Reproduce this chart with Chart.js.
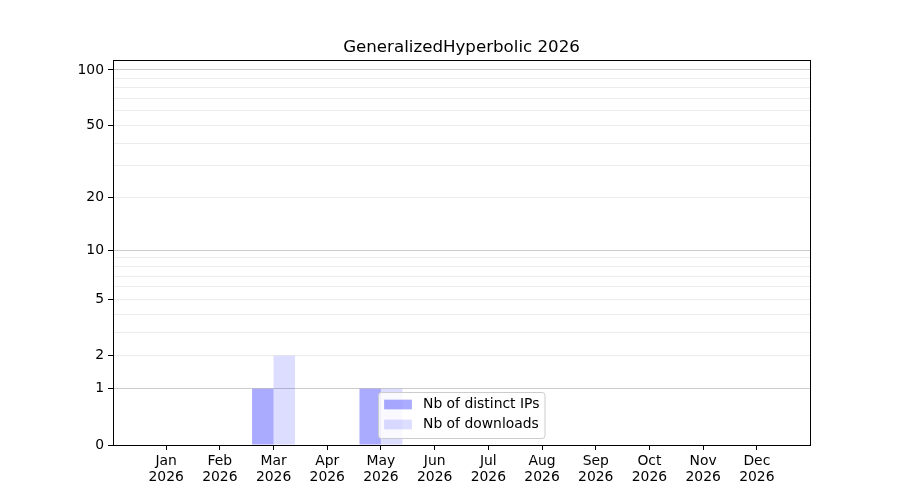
<!DOCTYPE html>
<html>
<head>
<meta charset="utf-8">
<script src="https://cdn.jsdelivr.net/npm/chart.js@4.4.1/dist/chart.umd.min.js"></script>
<style>
  body { margin: 0; background: #fff; }
  #wrap { width: 900px; height: 500px; }
</style>
</head>
<body>
<div id="wrap"><canvas id="chart" width="900" height="500"></canvas></div>
<script>
// Data
const months = ['Jan', 'Feb', 'Mar', 'Apr', 'May', 'Jun', 'Jul', 'Aug', 'Sep', 'Oct', 'Nov', 'Dec'];
const year = '2026';
const titleText = 'GeneralizedHyperbolic 2026';
const distinctIps = [0, 0, 1, 0, 1, 0, 0, 0, 0, 0, 0, 0];
const downloads = [0, 0, 2, 0, 1, 0, 0, 0, 0, 0, 0, 0];
const yTickValues = [0, 1, 2, 5, 10, 20, 50, 100];
const yMajorGrid = [1, 10, 100];
const yMinorGrid = [3, 4, 6, 7, 8, 9, 30, 40, 60, 70, 80, 90];

Chart.defaults.font.family = "'DejaVu Sans', sans-serif";
Chart.defaults.font.size = 13.9;
Chart.defaults.color = '#000';

// y scale that maps value -> log10(1 + value)
class Log1pScale extends Chart.LinearScale {
    static id = 'log1p';
    static defaults = {};
    buildTicks() {
        return yTickValues.concat(yMinorGrid).sort((a, b) => a - b).map(v => ({ value: v }));
    }
    getPixelForValue(value) {
        if (value === null || value === undefined || isNaN(value)) return NaN;
        const lo = Math.log10(1 + this.min), hi = Math.log10(1 + this.max);
        return this.getPixelForDecimal((Math.log10(1 + value) - lo) / (hi - lo));
    }
    getValueForPixel(pixel) {
        const lo = Math.log10(1 + this.min), hi = Math.log10(1 + this.max);
        return Math.pow(10, lo + this.getDecimalForPixel(pixel) * (hi - lo)) - 1;
    }
}
Chart.register(Log1pScale);

// Spines on all four sides + title centred over the axes
const frame = {
    id: 'frame',
    afterDatasetsDraw(chart) {
        const { ctx, chartArea: a } = chart;
        ctx.save();
        ctx.strokeStyle = '#000';
        ctx.lineWidth = 1;
        ctx.strokeRect(Math.round(a.left) + 0.5, Math.round(a.top) + 0.5,
            Math.round(a.right - a.left), Math.round(a.bottom - a.top));
        ctx.font = "16.67px 'DejaVu Sans', sans-serif";
        ctx.fillStyle = '#000';
        ctx.textAlign = 'center';
        ctx.textBaseline = 'alphabetic';
        ctx.fillText(titleText, (a.left + a.right) / 2, a.top - 8);
        ctx.restore();
    }
};

// matplotlib-like legend, lower center inside the axes
const boxLegend = {
    id: 'boxLegend',
    afterDraw(chart) {
        const { ctx, chartArea: a } = chart;
        const fs = 13.9;
        const sets = chart.data.datasets;
        ctx.save();
        ctx.font = fs + "px 'DejaVu Sans', sans-serif";
        let textW = 0;
        sets.forEach(d => { textW = Math.max(textW, ctx.measureText(d.label).width); });
        const pad = 5.6, handleW = 27.8, handleH = 9.7, gap = 11.1;
        const w = pad + handleW + gap + textW + pad;
        const h = 46;
        const x = Math.round((a.left + a.right) / 2 - w / 2) + 0.5;
        const y = Math.round(a.bottom - 7 - h) + 0.5;
        ctx.beginPath();
        ctx.roundRect(x, y, w, h, 3);
        ctx.fillStyle = 'rgba(255,255,255,0.8)';
        ctx.fill();
        ctx.strokeStyle = '#cccccc';
        ctx.lineWidth = 1;
        ctx.stroke();
        sets.forEach((d, i) => {
            const cy = y + 12 + i * 20;
            ctx.fillStyle = d.backgroundColor;
            ctx.fillRect(x + pad, cy - handleH / 2, handleW, handleH);
            ctx.fillStyle = '#000';
            ctx.textBaseline = 'middle';
            ctx.textAlign = 'left';
            ctx.fillText(d.label, x + pad + handleW + gap, cy);
        });
        ctx.restore();
    }
};

const ctx = document.getElementById('chart').getContext('2d');
new Chart(ctx, {
    type: 'bar',
    data: {
        datasets: [{
            label: 'Nb of distinct IPs',
            data: distinctIps.map((v, i) => ({ x: i, y: v })),
            backgroundColor: 'rgba(0, 0, 255, 0.333)',
            borderWidth: 0,
            categoryPercentage: 0.8,
            barPercentage: 1.0
        }, {
            label: 'Nb of downloads',
            data: downloads.map((v, i) => ({ x: i, y: v })),
            backgroundColor: 'rgba(0, 0, 255, 0.135)',
            borderWidth: 0,
            categoryPercentage: 0.8,
            barPercentage: 1.0
        }]
    },
    options: {
        responsive: false,
        animation: false,
        devicePixelRatio: 1,
        layout: {
            padding: { left: 0, right: 90, top: 60, bottom: 0 }
        },
        plugins: {
            legend: { display: false },
            tooltip: { enabled: false },
            title: { display: false }
        },
        scales: {
            x: {
                type: 'linear',
                min: -0.99,
                max: 11.99,
                offset: false,
                afterBuildTicks: (axis) => {
                    axis.ticks = months.map((m, i) => ({ value: i }));
                },
                afterFit: (scale) => { scale.height = 55; },
                grid: {
                    drawOnChartArea: false,
                    offset: false,
                    tickLength: 5,
                    tickColor: '#000'
                },
                border: { display: true, color: '#000', width: 1 },
                ticks: {
                    autoSkip: false,
                    maxRotation: 0,
                    padding: 3,
                    font: { size: 13.9, lineHeight: 1.15 },
                    callback: (value) => [months[value], year]
                }
            },
            y: {
                type: 'log1p',
                min: 0,
                max: 113.2,
                afterFit: (scale) => { scale.width = 113; },
                grid: {
                    tickLength: 5,
                    color: (c) => {
                        const v = c.tick ? c.tick.value : null;
                        if (yMajorGrid.includes(v)) return '#cccccc';
                        if (v === 0) return 'rgba(0,0,0,0)';
                        return '#ececec';
                    },
                    tickColor: (c) => (c.tick && yTickValues.includes(c.tick.value)) ? '#000' : 'rgba(0,0,0,0)'
                },
                border: { display: true, color: '#000', width: 1 },
                ticks: {
                    autoSkip: false,
                    padding: 4,
                    callback: (value) => yTickValues.includes(value) ? String(value) : ''
                }
            }
        }
    },
    plugins: [frame, boxLegend]
});
</script>
</body>
</html>
